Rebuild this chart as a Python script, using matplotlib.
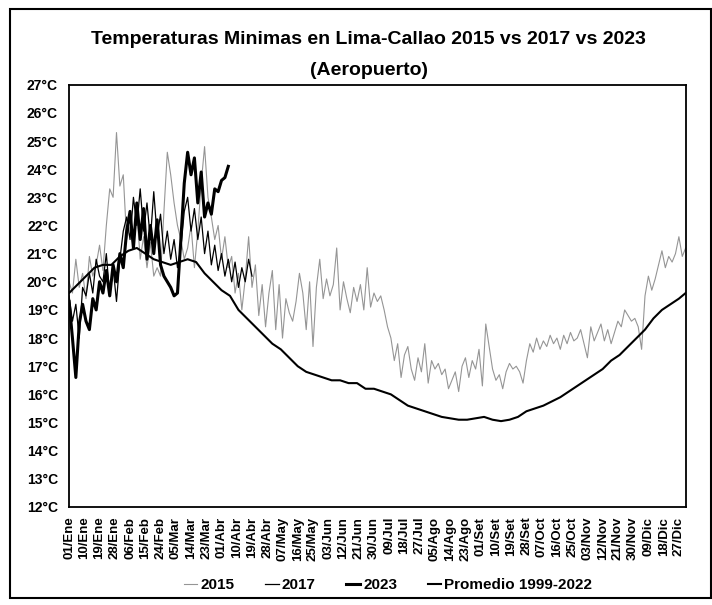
import numpy as np
import matplotlib.pyplot as plt
from matplotlib.patches import Rectangle

# tick labels every 9 days (non-leap year, day 0 = 01/Ene)
tick_days = list(range(0, 361, 9))
tick_labels = ['01/Ene', '10/Ene', '19/Ene', '28/Ene', '06/Feb', '15/Feb', '24/Feb',
               '05/Mar', '14/Mar', '23/Mar', '01/Abr', '10/Abr', '19/Abr', '28/Abr',
               '07/May', '16/May', '25/May', '03/Jun', '12/Jun', '21/Jun', '30/Jun',
               '09/Jul', '18/Jul', '27/Jul', '05/Ago', '14/Ago', '23/Ago', '01/Set',
               '10/Set', '19/Set', '28/Set', '07/Oct', '16/Oct', '25/Oct', '03/Nov',
               '12/Nov', '21/Nov', '30/Nov', '09/Dic', '18/Dic', '27/Dic']

# 2015: read every 2 days (day 0 .. 364)
days_2015 = list(range(0, 365, 2))
t_2015 = [20.0, 19.6, 20.8, 19.8, 20.3, 19.4, 20.9, 20.2, 20.6, 21.3, 20.4,
          22.0, 23.3, 23.0, 25.3, 23.4, 23.8, 21.5,
          22.0, 21.2, 22.5, 20.8, 21.6, 20.5, 21.4, 20.2, 20.5, 20.2,
          22.5, 24.6, 23.8, 22.8, 22.0, 21.5, 20.8, 21.2, 22.0, 20.5, 21.8, 23.5,
          24.8, 23.0, 22.3, 21.5, 22.0, 20.8, 21.6, 20.5, 20.9, 19.6, 20.3, 19.0,
          20.1, 21.6, 19.8, 20.6, 18.8, 19.9, 18.4, 19.6, 20.4, 18.3, 19.9, 18.0,
          19.4, 18.9, 18.6, 19.3, 20.3, 19.6, 18.3, 20.0, 17.7, 19.8, 20.8, 19.4,
          20.1, 19.5, 19.9, 21.2, 19.0, 20.0, 19.4, 18.9, 19.8, 19.3, 19.9, 19.0,
          20.5, 19.1, 19.6, 19.3, 19.5, 19.0, 18.4, 18.0, 17.2, 17.8, 16.6, 17.4,
          17.7, 16.9, 16.5, 17.3, 16.8, 17.8, 16.4, 17.2, 16.9, 17.1, 16.7, 16.9,
          16.2, 16.5, 16.8, 16.1, 17.0, 17.3, 16.6, 17.2, 16.9, 17.6, 16.3, 18.5,
          17.7, 16.9, 16.5, 16.7, 16.2, 16.8, 17.1, 16.9, 17.0, 16.8, 16.4, 17.2,
          17.8, 17.5, 18.0, 17.6, 17.9, 17.7, 18.1, 17.8, 18.0, 17.6, 18.1, 17.8,
          18.2, 17.9, 18.0, 18.3, 17.8, 17.3, 18.4, 17.9, 18.2, 18.5, 17.9, 18.3,
          17.8, 18.2, 18.6, 18.4, 19.0, 18.8, 18.6, 18.7, 18.4, 17.6, 19.5, 20.2,
          19.7, 20.1, 20.6, 21.1, 20.5, 20.9, 20.7, 21.0, 21.6, 20.9, 21.2]

# 2017: every 2 days, 01/Ene .. ~19/Abr
days_2017 = list(range(0, 109, 2))
t_2017 = [19.5, 18.6, 19.2, 18.0, 19.8, 19.5, 20.3, 19.6, 20.8, 20.2, 20.0,
          21.0, 19.5, 20.5, 19.3, 20.8, 21.8, 22.3, 21.5, 23.0, 22.0, 23.3,
          21.8, 22.8, 21.5, 23.2, 21.6, 22.4, 21.0, 21.8, 20.8, 21.5, 20.5,
          21.2, 22.5, 23.0, 21.8, 22.6, 21.5, 22.3, 21.0, 21.8, 20.6, 21.3,
          20.4, 21.0, 20.2, 20.8, 20.0, 20.7, 19.8, 20.5, 20.0, 20.8, 20.2]

# 2023: every 2 days, 01/Ene .. ~05/Abr
days_2023 = list(range(0, 95, 2))
t_2023 = [19.3, 18.0, 16.6, 18.5, 19.2, 18.6, 18.3, 19.4, 19.0, 20.0, 19.6,
          20.4, 19.5, 20.6, 20.0, 21.0, 20.5, 21.8, 22.5, 21.2, 22.8, 21.5,
          22.6, 20.8, 22.0, 21.0, 22.2, 20.6, 20.2, 20.0, 19.8, 19.5, 19.6,
          21.5, 23.5, 24.6, 23.8, 24.4, 22.8, 23.9, 22.3, 22.8, 22.4, 23.3,
          23.2, 23.6, 23.7, 24.1]

# Promedio 1999-2022: every 5 days
days_prom = list(range(0, 361, 5)) + [364]
t_prom = [19.6, 19.9, 20.2, 20.5, 20.6, 20.6, 20.9, 21.1, 21.2, 21.0, 20.8,
          20.7, 20.6, 20.7, 20.8, 20.7, 20.3, 20.0, 19.7, 19.5, 19.0, 18.7,
          18.4, 18.1, 17.8, 17.6, 17.3, 17.0, 16.8, 16.7, 16.6, 16.5, 16.5,
          16.4, 16.4, 16.2, 16.2, 16.1, 16.0, 15.8, 15.6, 15.5, 15.4, 15.3,
          15.2, 15.15, 15.1, 15.1, 15.15, 15.2, 15.1, 15.05, 15.1, 15.2, 15.4,
          15.5, 15.6, 15.75, 15.9, 16.1, 16.3, 16.5, 16.7, 16.9, 17.2, 17.4,
          17.7, 18.0, 18.3, 18.7, 19.0, 19.2, 19.4, 19.6]

yticks = list(range(12, 28))

plt.rcParams['font.family'] = ['Liberation Sans', 'DejaVu Sans']
plt.rcParams['font.weight'] = 'bold'

fig = plt.figure(figsize=(7.12, 6.05), dpi=100)
ax = fig.add_axes([0.097, 0.162, 0.866, 0.698])

ax.plot(days_2015, t_2015, color='#959595', lw=0.8, label='2015')
ax.plot(days_2017, t_2017, color='black', lw=0.9, label='2017')
ax.plot(days_2023, t_2023, color='black', lw=2.2, label='2023')
ax.plot(days_prom, t_prom, color='black', lw=1.5, label='Promedio 1999-2022')

ax.set_xlim(0, 364)
ax.set_ylim(12, 27)
ax.set_yticks(yticks)
ax.set_yticklabels([f'{v}°C' for v in yticks], fontsize=10, fontweight='bold')
ax.set_xticks(tick_days)
ax.set_xticklabels(tick_labels, rotation=90, fontsize=9.5, fontweight='bold')
ax.tick_params(length=0)
ax.tick_params(axis='y', pad=8)
ax.tick_params(axis='x', pad=7)
for s in ax.spines.values():
    s.set_linewidth(1.3)

fig.text(0.518, 0.935, 'Temperaturas Minimas en Lima-Callao 2015 vs 2017 vs 2023',
         ha='center', va='center', fontsize=14, fontweight='bold')
fig.text(0.518, 0.884, '(Aeropuerto)', ha='center', va='center',
         fontsize=14, fontweight='bold')

fig.legend(loc='center', bbox_to_anchor=(0.545, 0.033), ncol=4, frameon=False,
           handlelength=0.9, handletextpad=0.2, columnspacing=2.0,
           prop={'size': 11, 'weight': 'bold'})

fig.patches.append(Rectangle((0.014, 0.012), 0.984, 0.973, transform=fig.transFigure,
                             fill=False, edgecolor='black', lw=1.5))

fig.savefig('out.png', dpi=100)
